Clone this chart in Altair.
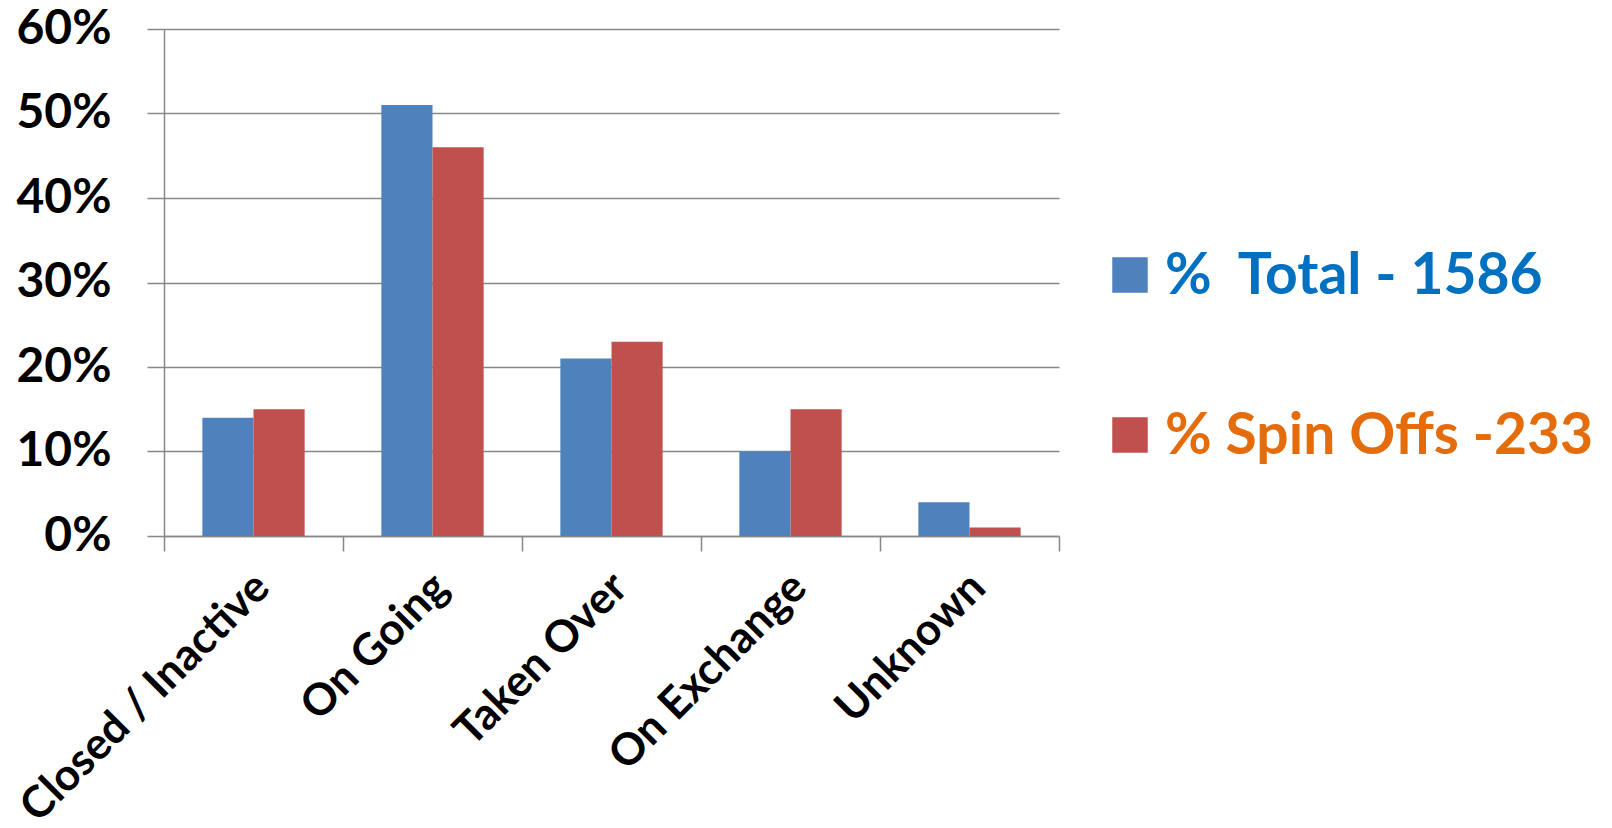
import altair as alt
import pandas as pd

# Outcome categories and the share of companies in each (percent)
categories = ["Closed / Inactive", "On Going", "Taken Over", "On Exchange", "Unknown"]
total_pct = [14, 51, 21, 10, 4]
spinoff_pct = [15, 46, 23, 15, 1]

series_names = ["%\u00a0\u00a0Total - 1586", "% Spin Offs -233"]
bar_colors = ["#4F81BD", "#C0504D"]
legend_text_colors = ["#0070C0", "#E46C0A"]
y_ticks = [0, 0.1, 0.2, 0.3, 0.4, 0.5, 0.6]

rows = []
for cat, t, s in zip(categories, total_pct, spinoff_pct):
    rows.append({"category": cat, "series": series_names[0], "value": t / 100})
    rows.append({"category": cat, "series": series_names[1], "value": s / 100})
bars_df = pd.DataFrame(rows)

legend_df = pd.DataFrame({"series": series_names})

FONT = "Lato"
GRID = "#878787"

bars = (
    alt.Chart(bars_df)
    .mark_bar()
    .encode(
        x=alt.X(
            "category:N",
            sort=categories,
            scale=alt.Scale(paddingInner=0, paddingOuter=0),
            axis=alt.Axis(
                title=None,
                tickBand="extent",
                labelAngle=-45,
                labelAlign="right",
                labelBaseline="top",
                labelFont=FONT,
                labelFontWeight="bold",
                labelFontSize=44,
                labelColor="black",
                labelLimit=0,
                labelPadding=14,
                labelOffset=-7,
                tickColor=GRID,
                tickSize=15,
                tickWidth=1.5,
                domainColor=GRID,
                domainWidth=1.5,
                grid=False,
            ),
        ),
        xOffset=alt.XOffset(
            "series:N",
            sort=series_names,
            scale=alt.Scale(paddingOuter=0.75, paddingInner=0),
        ),
        y=alt.Y(
            "value:Q",
            scale=alt.Scale(domain=[0, 0.6], nice=False),
            axis=alt.Axis(
                title=None,
                format=".0%",
                values=y_ticks,
                labelFont=FONT,
                labelFontWeight="bold",
                labelFontSize=48,
                labelColor="black",
                labelPadding=36,
                tickSize=17,
                tickColor=GRID,
                tickWidth=1.5,
                domainColor=GRID,
                domainWidth=1.5,
                gridColor=GRID,
                gridWidth=1.5,
            ),
        ),
        color=alt.Color(
            "series:N",
            scale=alt.Scale(domain=series_names, range=bar_colors),
            legend=None,
        ),
    )
    .properties(width=895, height=507)
)

# Legend drawn as its own small panel: coloured squares with coloured labels
legend_y = alt.Y(
    "series:N",
    sort=series_names,
    scale=alt.Scale(type="point", domain=series_names, range=[246, 406], padding=0),
    axis=None,
)
legend_squares = (
    alt.Chart(legend_df)
    .mark_square(size=1260, opacity=1)
    .encode(
        x=alt.value(31),
        y=legend_y,
        color=alt.Color(
            "series:N",
            scale=alt.Scale(domain=series_names, range=bar_colors),
            legend=None,
        ),
    )
)
legend_labels = (
    alt.Chart(legend_df)
    .mark_text(
        align="left",
        baseline="middle",
        font=FONT,
        fontWeight="bold",
        fontSize=57,
        dy=2,
    )
    .encode(
        x=alt.value(66),
        y=legend_y,
        text="series:N",
        color=alt.Color(
            "series:N",
            scale=alt.Scale(domain=series_names, range=legend_text_colors),
            legend=None,
        ),
    )
)
legend = (
    alt.layer(legend_squares, legend_labels)
    .resolve_scale(color="independent")
    .properties(width=480, height=507)
)

chart = (
    alt.hconcat(bars, legend, spacing=39)
    .properties(
        padding={"left": 12, "top": 5, "right": 0, "bottom": 0},
        background="white",
    )
    .configure_view(strokeWidth=0)
)

chart.save("out.html", embed_options={"renderer": "svg", "actions": False})
